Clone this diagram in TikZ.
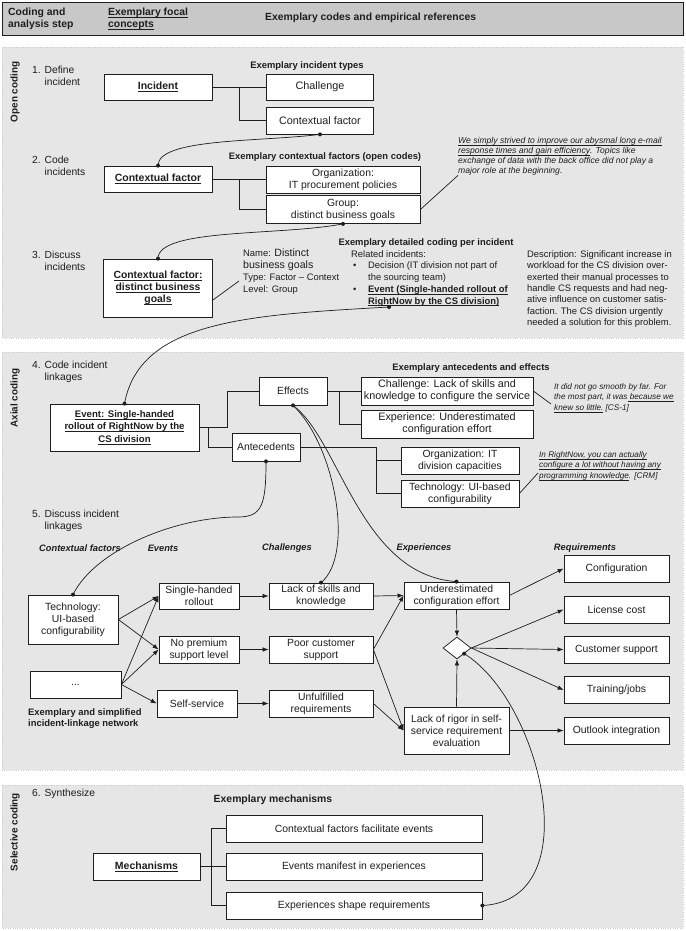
\documentclass[tikz,border=0pt]{standalone}
\usepackage{fontspec}
\setmainfont{Liberation Sans}
\usetikzlibrary{arrows.meta,shapes.geometric,calc}
\definecolor{secbg}{HTML}{E6E6E6}
\definecolor{secbd}{HTML}{CDCDCD}
\definecolor{hdrbg}{HTML}{C8C8C8}
\definecolor{ink}{HTML}{1E1E1E}
\newcommand\fz[2]{\fontsize{#1}{#2}\selectfont}
\newcommand\jdot[1]{\fill[ink] (#1) circle (2pt);}
\newcommand\myul[1]{\leavevmode\setbox0\hbox{#1}\dp0=0pt\underline{\box0}}
\begin{document}
\begin{tikzpicture}[x=1pt,y=-1pt,
  box/.style={draw=ink, fill=white, line width=0.75pt, align=center, inner sep=1pt, text=ink, font=\fz{10.4}{12}},
  bbox/.style={box, font=\fz{10.5}{12}\bfseries},
  lbl/.style={text=ink, inner sep=0pt},
  conn/.style={draw=ink, line width=0.7pt},
  arr/.style={conn, -{Latex[length=6pt,width=4.5pt]}},
  crv/.style={draw=ink, line width=0.7pt},
  quote/.style={lbl, anchor=west, align=left, font=\fz{8.2}{10.5}\itshape},
  hd/.style={lbl, font=\fz{9.4}{11}\bfseries},
  nh/.style={lbl, font=\fz{9.3}{11}\bfseries\itshape},
  steplbl/.style={lbl, anchor=west, align=left, font=\fz{10.3}{12}},
  side/.style={lbl, rotate=90, font=\fz{9.9}{11}\bfseries}
]
\useasboundingbox (0,0) rectangle (685,931);
\fill[white] (0,0) rectangle (685,931);

% header and section backgrounds
\draw[draw=ink, fill=hdrbg, line width=0.8pt] (2,2) rectangle (683,35);
\path[fill=secbg, draw=secbd, dotted] (2,47) rectangle (683,338);
\path[fill=secbg, draw=secbd, dotted] (2,352) rectangle (683,770);
\path[fill=secbg, draw=secbd, dotted] (2,785) rectangle (683,928);

\node[lbl, anchor=west, align=left, font=\fz{10.4}{12}\bfseries] (hstep) at (8,19) {Coding and\\analysis step};
\node[lbl, anchor=west, align=left, font=\fz{10.4}{12}\bfseries] (hfoc) at (108,19) {\myul{Exemplary focal}\\\myul{concepts}};
\node[lbl, anchor=west, font=\fz{10.4}{12}\bfseries] (hcode) at (265,18) {Exemplary codes and empirical references};

\node[side] (sopen) at (15,92) {Open coding};
\node[side] (saxial) at (15,398) {Axial coding};
\node[side] (ssel) at (15,832) {Selective coding};

\node[steplbl] (st1) at (32,76) {1. Define\\\phantom{1. }incident};
\node[steplbl] (st2) at (32,165.5) {2. Code\\\phantom{2. }incidents};
\node[steplbl] (st3) at (32,261) {3. Discuss\\\phantom{3. }incidents};
\node[steplbl] (st4) at (32,372) {4. Code incident\\\phantom{4. }linkages};
\node[steplbl] (st5) at (32,521) {5. Discuss incident\\\phantom{5. }linkages};
\node[steplbl] (st6) at (32,794) {6. Synthesize};

% ---------- open coding ----------
\node[hd] (t1) at (307,66) {Exemplary incident types};
\node[bbox, minimum width=108pt, minimum height=26pt] (incident) at (158,87) {\myul{Incident}};
\node[box, font=\fz{10.8}{12}, minimum width=107pt, minimum height=26pt] (challenge1) at (320,87) {Challenge};
\node[box, font=\fz{10.8}{12}, minimum width=107pt, minimum height=27pt] (cf1) at (320,120.5) {Contextual factor};
\draw[conn] (incident.east) -- (challenge1.west);
\draw[conn] ($(incident.east)!.5!(challenge1.west)$) |- (cf1.west);

\node[hd] (t2) at (325,157) {Exemplary contextual factors (open codes)};
\node[bbox, minimum width=108pt, minimum height=26pt] (cf2) at (158,179) {\myul{Contextual factor}};
\node[box, minimum width=154pt, minimum height=27pt] (org1) at (343,179.5) {Organization:\\IT procurement policies};
\node[box, minimum width=154pt, minimum height=28pt] (group1) at (343,209.5) {Group:\\distinct business goals};
\draw[conn] (cf2.east) -- (cf2.east -| org1.west);
\draw[conn] ($(cf2.east)!.5!(cf2.east -| org1.west)$) |- (group1.west);

\node[quote, anchor=north west, font=\fz{8.6}{10}\itshape] (q1) at (458,137) {\myul{We simply strived to improve our abysmal long e-mail}\\\myul{response times and gain efficiency}. Topics like\\exchange of data with the back office did not play a\\major role at the beginning.};
\draw[conn] (group1.east) -- (q1.south west);

\node[bbox, font=\fz{10.4}{12}\bfseries, minimum width=109pt, minimum height=58pt] (cfdbg) at (158,288) {\myul{Contextual factor:}\\\myul{distinct business}\\\myul{goals}};
\node[lbl, anchor=west, align=left, font=\fz{9.4}{12}] (nm) at (243,272) {Name: {\fz{10.6}{12}Distinct}\\{\fz{10.6}{12}business goals}\\Type: Factor – Context\\Level: Group};
\draw[conn] ($(cfdbg.east)+(0,12)$) -- ($(nm.west)+(-4,9)$);

\node[hd] (dct) at (426,243) {Exemplary detailed coding per incident};
\node[lbl, anchor=west, font=\fz{9.4}{11.7}] (rel) at (351,254.5) {Related incidents:};
\node[lbl, anchor=west, font=\fz{9.4}{11.7}] (bul1) at (353,266) {•};
\node[lbl, anchor=west, align=left, font=\fz{9.4}{11.7}] (dec) at (368,272) {Decision (IT division not part of\\the sourcing team)};
\node[lbl, anchor=west, font=\fz{9.4}{11.7}] (bul2) at (353,290) {•};
\node[lbl, anchor=west, align=left, font=\fz{9.4}{11.7}\bfseries] (evt) at (368,296) {\myul{Event (Single-handed rollout of}\\\myul{RightNow by the CS division)}};
\coordinate (evdot) at (389,307);

\node[lbl, anchor=west, align=left, font=\fz{9.4}{11.3}] (desc) at (527,289) {Description: Significant increase in\\workload for the CS division over-\\exerted their manual processes to\\handle CS requests and had neg-\\ative influence on customer satis-\\faction. The CS division urgently\\needed a solution for this problem.};

% ---------- axial coding ----------
\node[bbox, font=\fz{9.6}{12.5}\bfseries, minimum width=149pt, minimum height=47pt] (event) at (124.5,427.5) {\myul{Event: Single-handed}\\\myul{rollout of RightNow by the}\\\myul{CS division}};

\draw[crv] (cf1.south) .. controls (260,142) and (158,138) .. (cf2.north);
\draw[crv] (group1.south) .. controls (280,236) and (158,228) .. (cfdbg.north);
\draw[crv] (evdot) .. controls (250,315) and (140,320) .. (event.north);
\jdot{cf1.south} \jdot{cf2.north} \jdot{group1.south} \jdot{cfdbg.north} \jdot{evdot} \jdot{event.north}

\node[hd] (t3) at (471,368) {Exemplary antecedents and effects};
\node[box, minimum width=68pt, minimum height=28pt] (effects) at (293,391) {Effects};
\node[box, minimum width=68pt, minimum height=28pt] (antecedents) at (266,447) {Antecedents};
\node[box, font=\fz{10.8}{12}, minimum width=172pt, minimum height=28pt] (chal2) at (447,391) {Challenge: Lack of skills and\\knowledge to configure the service};
\node[box, font=\fz{10.8}{12}, minimum width=172pt, minimum height=28pt] (exp2) at (447,424) {Experience: Underestimated\\configuration effort};
\node[box, minimum width=118pt, minimum height=27pt] (org2) at (460,460.5) {Organization: IT\\division capacities};
\node[box, minimum width=118pt, minimum height=27pt] (tech1) at (460,493.5) {Technology: UI-based\\configurability};

\draw[conn] (event.east) -- ++(28,0) |- (effects.west);
\draw[conn] (event.east) -- ++(9,0) |- (antecedents.west);
\draw[conn] (effects.east) -- (chal2.west);
\draw[conn] (effects.east) -- ++(12,0) |- (exp2.west);
\draw[conn] (antecedents.east) -- ++(76,0) |- (org2.west);
\draw[conn] ($(antecedents.east)+(76,0)$) |- (tech1.west);

\node[quote] (q2) at (554,398) {It did not go smooth by far. For\\the most part, it was\myul{ because we}\\\myul{knew so little.} [CS-1]};
\draw[conn] (chal2.east) -- ($(q2.west)+(-3,6)$);
\node[quote] (q3) at (539,466) {\myul{In RightNow, you can actually}\\\myul{configure a lot without having any}\\\myul{programming knowledge}. [CRM]};
\draw[conn] (tech1.east) -- ($(q3.west)+(-1,7)$);

% network
\node[nh] (hcf) at (80,548) {Contextual factors};
\node[nh] (hev) at (163,548) {Events};
\node[nh] (hch) at (287,548) {Challenges};
\node[nh] (hex) at (424,548) {Experiences};
\node[nh] (hrq) at (585,548) {Requirements};

\node[box, minimum width=90pt, minimum height=49pt] (tech2) at (73,619.5) {Technology:\\UI-based\\configurability};
\node[box, minimum width=91pt, minimum height=27pt] (etc) at (75.5,684.5) {...};
\node[lbl, anchor=west, align=left, font=\fz{9.4}{11.5}\bfseries] (netl) at (28,718.5) {Exemplary and simplified\\incident-linkage network};

\node[box, minimum width=80pt, minimum height=26pt] (single) at (199,596) {Single-handed\\rollout};
\node[box, minimum width=80pt, minimum height=27pt] (noprem) at (199,649.5) {No premium\\support level};
\node[box, minimum width=80pt, minimum height=27pt] (selfs) at (197,703.5) {Self-service};
\node[box, minimum width=104pt, minimum height=26pt] (lack) at (321,596) {Lack of skills and\\knowledge};
\node[box, minimum width=104pt, minimum height=27pt] (poor) at (321,649.5) {Poor customer\\support};
\node[box, minimum width=104pt, minimum height=27pt] (unful) at (321,703.5) {Unfulfilled\\requirements};
\node[box, minimum width=105pt, minimum height=27pt] (under) at (456.5,595.5) {Underestimated\\configuration effort};
\node[box, minimum width=105pt, minimum height=47pt] (rigor) at (456.5,730.5) {Lack of rigor in self-\\service requirement\\evaluation};
\node[draw=ink, fill=white, line width=0.75pt, diamond, aspect=1.27, inner sep=0pt, minimum width=28pt, minimum height=22pt] (dia) at (457,648) {};
\node[box, minimum width=105pt, minimum height=27pt] (config) at (616.5,568.5) {Configuration};
\node[box, minimum width=105pt, minimum height=27pt] (license) at (616.5,609.5) {License cost};
\node[box, minimum width=105pt, minimum height=27pt] (custsup) at (616.5,649.5) {Customer support};
\node[box, minimum width=105pt, minimum height=27pt] (training) at (616.5,690) {Training/jobs};
\node[box, minimum width=105pt, minimum height=27pt] (outlook) at (616.5,730.5) {Outlook integration};

\draw[arr] (tech2.east) -- (single.west);
\draw[arr] (tech2.east) -- (noprem.west);
\draw[arr] (etc.east) -- (single.west);
\draw[arr] (etc.east) -- (noprem.west);
\draw[arr] (etc.east) -- (selfs.west);
\draw[arr] (single.east) -- (lack.west);
\draw[arr] (noprem.east) -- (poor.west);
\draw[arr] (selfs.east) -- (unful.west);
\draw[arr] (lack.east) -- (under.west);
\draw[arr] (poor.east) -- (under.west);
\draw[arr] (poor.east) -- (rigor.west);
\draw[arr] (unful.east) -- (rigor.west);
\draw[arr] (under.south) -- (dia.north);
\draw[arr] (rigor.north) -- (dia.south);
\draw[arr] (under.east) -- (config.west);
\draw[arr] (dia.east) -- (license.west);
\draw[arr] (dia.east) -- (custsup.west);
\draw[arr] (dia.east) -- (training.west);
\draw[arr] (rigor.east) -- (outlook.west);

% ---------- selective coding ----------
\node[lbl, font=\fz{10.4}{12}\bfseries] (t4) at (273,800) {Exemplary mechanisms};
\node[bbox, minimum width=107pt, minimum height=27pt] (mech) at (146.5,866.5) {\myul{Mechanisms}};
\node[box, minimum width=256pt, minimum height=27pt] (cffe) at (354,828.5) {Contextual factors facilitate events};
\node[box, minimum width=256pt, minimum height=27pt] (eme) at (354,866.5) {Events manifest in experiences};
\node[box, minimum width=256pt, minimum height=27pt] (esr) at (354,905.5) {Experiences shape requirements};
\draw[conn] (mech.east) -- (eme.west);
\draw[conn] ($(mech.east)+(11,0)$) |- (cffe.west);
\draw[conn] ($(mech.east)+(11,0)$) |- (esr.west);

% long curves
\draw[crv] (effects.south) .. controls (335,445) and (355,555) .. (lack.north);
\draw[crv] (effects.south) .. controls (340,440) and (360,575) .. (under.north);
\draw[crv] (antecedents.south) .. controls (266,505) and (262,517) .. (238,517) .. controls (175,517) and (95,550) .. (tech2.north);
\draw[crv] (dia.south east) .. controls (540,700) and (590,900) .. (esr.east);
\jdot{effects.south} \jdot{lack.north} \jdot{under.north} \jdot{antecedents.south} \jdot{tech2.north} \jdot{dia.south east} \jdot{esr.east}
\end{tikzpicture}
\end{document}
